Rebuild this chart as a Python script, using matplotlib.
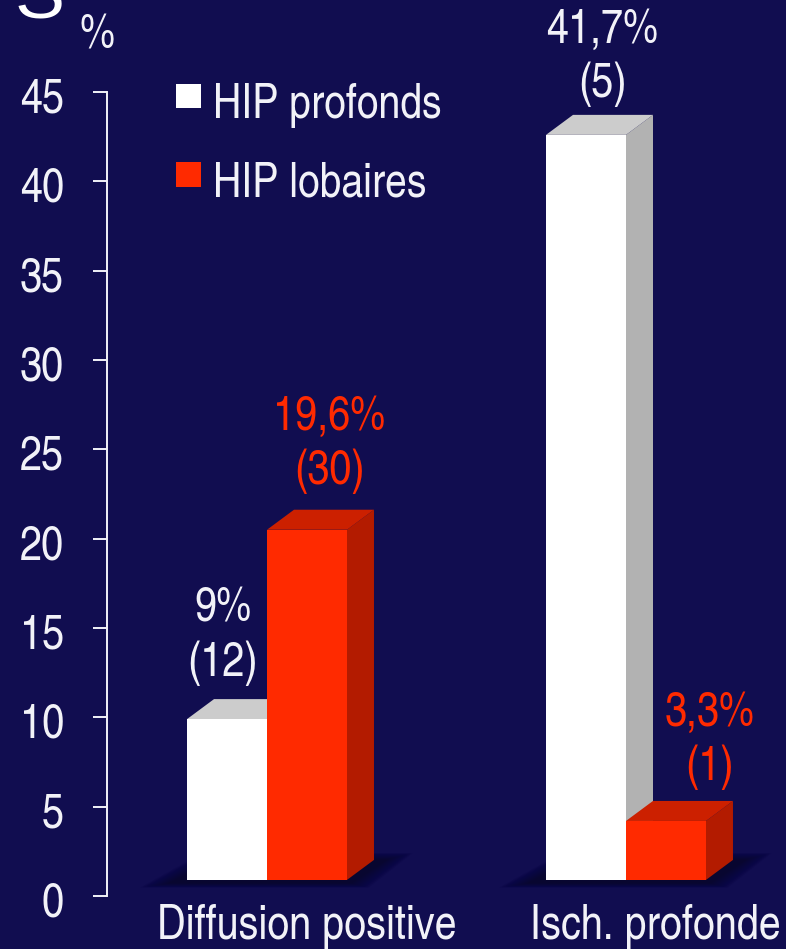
import matplotlib
matplotlib.use("Agg")
import matplotlib.pyplot as plt
from matplotlib.patches import Polygon
from matplotlib.transforms import ScaledTranslation

FONT = ["TeX Gyre Heros Cn", "Liberation Sans", "DejaVu Sans"]
plt.rcParams["font.family"] = FONT

# Data
categories = ["Diffusion positive", "Isch. profonde"]
series_names = ["HIP profonds", "HIP lobaires"]
deep_values = [9.0, 41.7]
lobar_values = [19.6, 3.3]
deep_counts = [12, 5]
lobar_counts = [30, 1]
deep_texts = ["9%", "41,7%"]
lobar_texts = ["19,6%", "3,3%"]
y_ticks = [0, 5, 10, 15, 20, 25, 30, 35, 40, 45]

# Styling
BG = "#110d50"
INK = "#f2f2f8"
RED = "#ff2a00"
RED_SIDE = "#b31b00"
RED_TOP = "#cc2000"
WHITE = "#ffffff"
WHITE_SIDE = "#b2b2b2"
WHITE_TOP = "#cccccc"
SHADOW = "#080630"
FS = 34.8

# Label nudges, in pixels, per group
deep_nudge = [(-18, 10), (3, 5)]
lobar_nudge = [(9, 13), (30, 8)]

W, H = 786, 949
PX = 72 / 100
fig = plt.figure(figsize=(W / 100, H / 100), dpi=100, facecolor=BG)
ax = fig.add_axes([107 / W, (H - 896) / H, (W - 107) / W, (896 - 92) / H], facecolor=BG)
ax.set_xlim(-0.4457, 1.4457)
ax.set_ylim(0, 45)

bar_w = 0.2228
depth_x = 27 / 359
depth_y = 1.12
floor = 0.9  # the front faces stand forward of the axis zero


def draw_series(positions, values, front, side, top, label):
    bars = ax.bar(positions, values, width=bar_w, bottom=floor, color=front,
                  align="edge", zorder=5, label=label, linewidth=0)
    for x, v in zip(positions, values):
        x1 = x + bar_w
        t = floor + v
        ax.add_patch(Polygon([(x1, floor), (x1 + depth_x, floor + depth_y),
                              (x1 + depth_x, t + depth_y), (x1, t)],
                             closed=True, color=side, lw=0, zorder=4))
        ax.add_patch(Polygon([(x, t), (x + depth_x, t + depth_y),
                              (x1 + depth_x, t + depth_y), (x1, t)],
                             closed=True, color=top, lw=0, zorder=4))
    return bars


# Soft floor shadow under each pair of bars
for g in range(len(categories)):
    steps = 60
    for i in range(steps):
        f = i / (steps - 1)
        grow_x = 0.17 * (1 - f)
        grow_y = 0.8 * (1 - f)
        x0, x1 = g - bar_w + 0.04, g + bar_w - 0.04
        y0, y1 = floor + 0.1, floor + 0.7
        ax.add_patch(Polygon([(x0 - grow_x, y0 - grow_y * 0.65),
                              (x1 + grow_x * 0.6, y0 - grow_y * 0.65),
                              (x1 + 0.07 + grow_x * 0.9, y1 + grow_y),
                              (x0 + 0.07 - grow_x * 0.4, y1 + grow_y)],
                             closed=True, color=SHADOW, alpha=0.035, lw=0, zorder=2))

xs_deep = [g - bar_w for g in range(len(categories))]
xs_lobar = [g for g in range(len(categories))]
draw_series(xs_deep, deep_values, WHITE, WHITE_SIDE, WHITE_TOP, series_names[0])
draw_series(xs_lobar, lobar_values, RED, RED_SIDE, RED_TOP, series_names[1])

# Axis
for s in ["top", "right", "bottom"]:
    ax.spines[s].set_visible(False)
ax.spines["left"].set_color(INK)
ax.spines["left"].set_linewidth(1.4)
ax.set_yticks(y_ticks)
ax.tick_params(axis="y", length=10, width=1.4, color=INK, pad=21, labelsize=FS, labelcolor=INK)
shift = ScaledTranslation(0, -3 / 100, fig.dpi_scale_trans)
for lab in ax.get_yticklabels():
    lab.set_transform(lab.get_transform() + shift)
ax.set_xticks([0.11, 1.083])
ax.set_xticklabels(categories, fontsize=FS, color=INK)
ax.tick_params(axis="x", length=0, pad=6)

fig.text(97 / W, 1 - 36 / H, "%", color=INK, fontsize=FS, ha="center", va="center")
# Slide heading, cut off by the top edge
fig.text(40 / W, 1 - 17 / H, "S", color=WHITE, fontsize=54, ha="center", va="baseline",
         family="Liberation Sans")

# Value labels
for g in range(len(categories)):
    dx, dy = deep_nudge[g]
    ax.annotate(f"{deep_texts[g]}\n({deep_counts[g]})",
                xy=(xs_deep[g] + bar_w / 2 + depth_x / 2, floor + deep_values[g] + depth_y),
                xytext=(dx * PX, 2 + dy * PX), textcoords="offset points",
                ha="center", va="bottom", linespacing=1.25,
                color=INK, fontsize=FS, annotation_clip=False, zorder=8)
    dx, dy = lobar_nudge[g]
    ax.annotate(f"{lobar_texts[g]}\n({lobar_counts[g]})",
                xy=(xs_lobar[g] + bar_w / 2 + depth_x / 2, floor + lobar_values[g] + depth_y),
                xytext=(dx * PX, 2 + dy * PX), textcoords="offset points",
                ha="center", va="bottom", linespacing=1.25,
                color=RED, fontsize=FS, annotation_clip=False, zorder=8)

# Legend
leg = ax.legend(loc="upper left", bbox_to_anchor=(176 / W, 1 - 78 / H),
                bbox_transform=fig.transFigure, frameon=False, fontsize=34.4,
                handlelength=0.525, handleheight=0.42, handletextpad=0.25,
                labelspacing=0.7, borderpad=0, borderaxespad=0)
for t in leg.get_texts():
    t.set_color(INK)
    t.set_y(-5)

fig.savefig("out.png", dpi=100, facecolor=BG)
